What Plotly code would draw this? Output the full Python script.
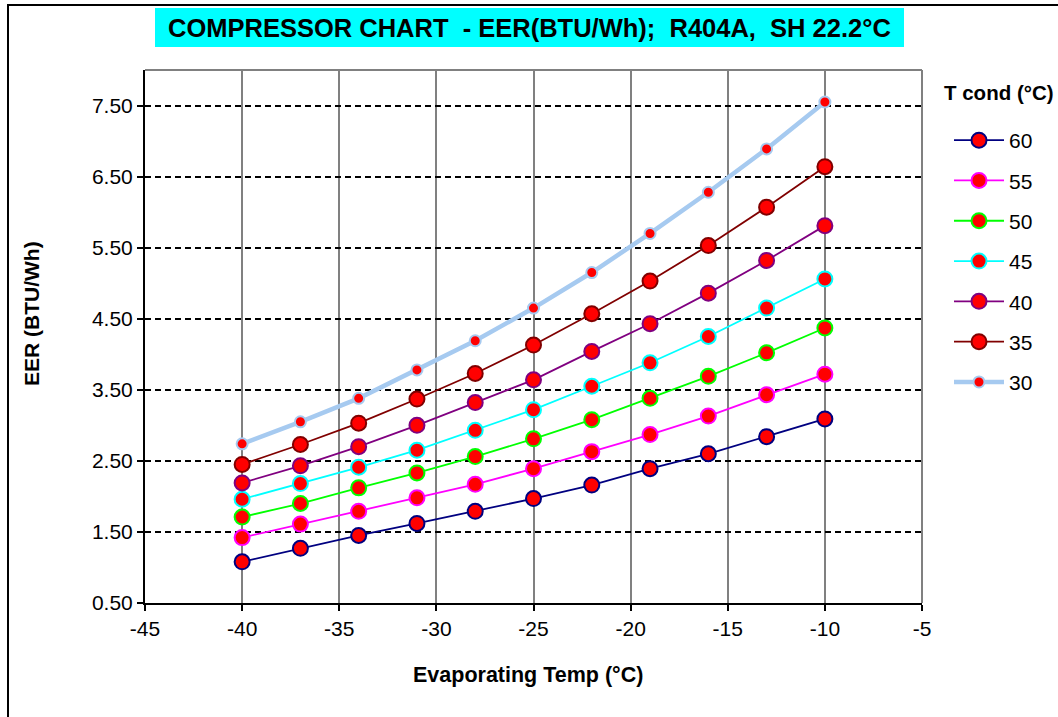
import plotly.graph_objects as go

evap_temp = [-40, -37, -34, -31, -28, -25, -22, -19, -16, -13, -10]
cond_labels = ["60", "55", "50", "45", "40", "35", "30"]

eer_60 = [1.08, 1.27, 1.45, 1.62, 1.79, 1.97, 2.16, 2.39, 2.60, 2.84, 3.09]
eer_55 = [1.42, 1.61, 1.79, 1.98, 2.17, 2.39, 2.63, 2.87, 3.13, 3.43, 3.72]
eer_50 = [1.71, 1.90, 2.12, 2.33, 2.56, 2.81, 3.08, 3.38, 3.69, 4.02, 4.37]
eer_45 = [1.96, 2.18, 2.41, 2.65, 2.93, 3.22, 3.55, 3.88, 4.25, 4.65, 5.06]
eer_40 = [2.19, 2.43, 2.70, 3.00, 3.32, 3.64, 4.04, 4.43, 4.86, 5.32, 5.81]
eer_35 = [2.45, 2.73, 3.03, 3.37, 3.73, 4.13, 4.57, 5.03, 5.53, 6.07, 6.64]
eer_30 = [2.74, 3.05, 3.38, 3.78, 4.19, 4.65, 5.15, 5.70, 6.28, 6.89, 7.55]

x_tick_vals = [-45, -40, -35, -30, -25, -20, -15, -10, -5]
x_tick_text = ["-45", "-40", "-35", "-30", "-25", "-20", "-15", "-10", "-5"]

series = [eer_60, eer_55, eer_50, eer_45, eer_40, eer_35, eer_30]
line_colors = ["#000080", "#FF00FF", "#00FF00", "#00FFFF", "#800080", "#800000", "#A6CAF0"]

FONT = "Liberation Sans, Arial, sans-serif"

fig = go.Figure()
for lbl, vals, col in zip(cond_labels, series, line_colors):
    thick = lbl == "30"
    fig.add_trace(go.Scatter(
        x=evap_temp, y=vals, name=lbl, mode="lines+markers",
        legendgroup=lbl,
        line=dict(color=col, width=4.5 if thick else 1.8),
        marker=dict(color="#FF0000", size=11 if thick else 15,
                    line=dict(color=col, width=2)),
    ))

W, H = 1058, 717
L, R, T, B = 145, 136, 70, 114
pw, ph = W - L - R, H - T - B


def px(x):
    return (x - L) / pw


def py(y):
    return (H - B - y) / ph


fig.update_layout(
    width=W, height=H,
    margin=dict(l=L, r=R, t=T, b=B),
    paper_bgcolor="white", plot_bgcolor="white",
    font=dict(family=FONT, size=21, color="black"),
    showlegend=True,
    legend=dict(
        x=px(949), y=py(120), xanchor="left", yanchor="top",
        font=dict(size=21, family=FONT),
        tracegroupgap=10,
        itemwidth=50,
        bgcolor="rgba(0,0,0,0)",
    ),
    xaxis=dict(
        range=[-45, -5], tickvals=x_tick_vals, ticktext=x_tick_text,
        showgrid=True, gridcolor="#808080", gridwidth=1.5,
        showline=True, linecolor="black", linewidth=2,
        ticks="outside", ticklen=6, tickcolor="black", tickwidth=1.5,
        zeroline=False,
        tickfont=dict(size=21),
    ),
    yaxis=dict(
        range=[0.5, 8.0], dtick=1, tick0=0.5, tickformat=".2f",
        showgrid=True, gridcolor="black", gridwidth=1.5, griddash="6px,4px",
        showline=True, linecolor="black", linewidth=2,
        ticks="outside", ticklen=6, tickcolor="black", tickwidth=1.5,
        zeroline=False,
        tickfont=dict(size=21),
    ),
    shapes=[
        dict(type="line", xref="paper", yref="paper", x0=0, x1=1, y0=1, y1=1,
             line=dict(color="#808080", width=2)),
        dict(type="line", xref="paper", yref="paper", x0=1, x1=1, y0=0, y1=1,
             line=dict(color="#808080", width=2)),
        dict(type="rect", xref="paper", yref="paper",
             x0=px(8), x1=px(1300), y0=py(900), y1=py(5),
             line=dict(color="black", width=2), fillcolor="rgba(0,0,0,0)", layer="below"),
        dict(type="rect", xref="paper", yref="paper",
             x0=px(155), x1=px(904), y0=py(47), y1=py(8),
             line=dict(width=0), fillcolor="#00FFFF", layer="below"),
    ],
    annotations=[
        dict(text="<b>COMPRESSOR CHART  - EER(BTU/Wh);  R404A,  SH 22.2°C</b>",
             xref="paper", yref="paper", x=px(529), y=py(28),
             xanchor="center", yanchor="middle", showarrow=False,
             font=dict(size=25.5, family=FONT, color="black")),
        dict(text="<b>T cond (°C)</b>",
             xref="paper", yref="paper", x=px(942), y=py(92),
             xanchor="left", yanchor="middle", showarrow=False,
             font=dict(size=20.5, family=FONT, color="black")),
        dict(text="<b>Evaporating Temp (°C)</b>",
             xref="paper", yref="paper", x=px(528), y=py(675),
             xanchor="center", yanchor="middle", showarrow=False,
             font=dict(size=21.5, family=FONT, color="black")),
        dict(text="<b>EER (BTU/Wh)</b>", textangle=-90,
             xref="paper", yref="paper", x=px(31), y=py(313),
             xanchor="center", yanchor="middle", showarrow=False,
             font=dict(size=21, family=FONT, color="black")),
    ],
)

fig.write_html("out.html")
